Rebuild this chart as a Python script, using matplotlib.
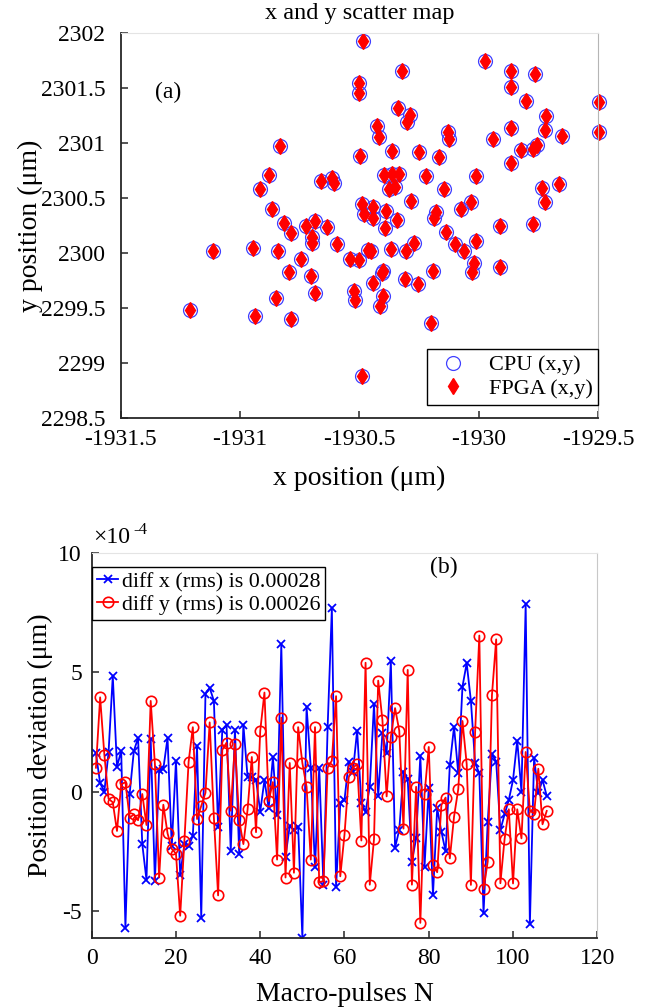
import numpy as np
import matplotlib
matplotlib.use('Agg')
import matplotlib.pyplot as plt
from matplotlib.ticker import FuncFormatter, FixedLocator, FormatStrFormatter

# ---------------- data: (a) scatter map ----------------
cpu_x = [
    -1930.485, -1930.502, -1930.502, -1930.322, -1929.975, -1929.864, -1929.765, -1929.864, -1929.803, -1929.497,
    -1930.339, -1930.289, -1930.300, -1929.717, -1929.721, -1929.497, -1930.425, -1930.418, -1930.130, -1930.123,
    -1929.941, -1929.863, -1929.649, -1930.831, -1930.498, -1930.363, -1930.251, -1930.168, -1929.821, -1929.773,
    -1929.757, -1929.866, -1930.876, -1930.915, -1930.662, -1930.615, -1930.605, -1930.395, -1930.361, -1930.332,
    -1930.374, -1930.351, -1930.222, -1930.013, -1930.144, -1929.734, -1929.664, -1929.722, -1930.487, -1930.482,
    -1930.441, -1930.444, -1930.390, -1930.342, -1930.282, -1930.180, -1930.187, -1930.072, -1930.034, -1929.912,
    -1929.774, -1930.864, -1930.817, -1930.787, -1930.722, -1930.685, -1930.697, -1930.696, -1930.637, -1930.595,
    -1930.393, -1930.135, -1930.272, -1930.305, -1930.098, -1930.062, -1930.013, -1930.020, -1930.028, -1929.911,
    -1930.191, -1930.310, -1930.254, -1930.198, -1931.112, -1930.947, -1930.840, -1930.746, -1930.540, -1930.501,
    -1930.463, -1930.449, -1930.368, -1930.796, -1930.702, -1930.687, -1930.400, -1930.405, -1930.442, -1930.523,
    -1930.518, -1930.400, -1930.413, -1930.849, -1931.209, -1930.936, -1930.786, -1930.487]
cpu_y = [
    2301.929, 2301.550, 2301.454, 2301.657, 2301.744, 2301.660, 2301.625, 2301.507, 2301.383, 2301.370,
    2301.318, 2301.255, 2301.192, 2301.243, 2301.120, 2301.097, 2301.158, 2301.055, 2301.101, 2301.036,
    2301.037, 2301.137, 2301.062, 2300.977, 2300.884, 2300.925, 2300.921, 2300.878, 2300.937, 2300.950,
    2300.980, 2300.818, 2300.711, 2300.585, 2300.659, 2300.685, 2300.633, 2300.706, 2300.715, 2300.722,
    2300.581, 2300.604, 2300.703, 2300.703, 2300.586, 2300.589, 2300.627, 2300.467, 2300.449, 2300.358,
    2300.422, 2300.316, 2300.382, 2300.303, 2300.474, 2300.376, 2300.321, 2300.403, 2300.460, 2300.248,
    2300.268, 2300.399, 2300.271, 2300.179, 2300.250, 2300.291, 2300.142, 2300.088, 2300.236, 2300.083,
    2300.224, 2300.188, 2300.088, 2300.017, 2300.078, 2300.017, 2300.109, 2299.911, 2299.829, 2299.874,
    2299.835, 2299.759, 2299.714, 2299.363, 2300.017, 2300.042, 2300.015, 2299.944, 2299.944, 2299.935,
    2300.026, 2300.020, 2300.036, 2299.823, 2299.792, 2299.639, 2299.838, 2299.819, 2299.728, 2299.655,
    2299.570, 2299.607, 2299.518, 2299.593, 2299.479, 2299.427, 2299.403, 2298.880]
fpga_x = list(cpu_x)
fpga_y = list(cpu_y)

x_ticks_a = [-1931.5, -1931, -1930.5, -1930, -1929.5]
y_ticks_a = [2298.5, 2299, 2299.5, 2300, 2300.5, 2301, 2301.5, 2302]

# ---------------- data: (b) deviations (units of 1e-4 um) ----------------
pulses = list(range(1, 109))
diff_x_e4 = [
    1.6, 0.35, 0.0, 1.65, 4.85, 1.05, 1.7, -5.7, -0.1, 1.7,
    2.25, -2.2, -3.7, 2.2, -3.75, 0.9, 0.95, 2.25, -2.3, 1.3,
    -3.5, -2.2, -2.3, -1.85, 1.9, -5.3, 4.1, 4.35, 3.8, -1.5,
    2.6, 2.8, -2.5, 2.6, -2.6, 2.8, 0.6, 0.6, 0.5, -0.84,
    0.49, -0.7, 1.44, -0.98, 6.17, -2.72, -1.44, -1.61, -1.47, -6.12,
    3.56, 1.0, -3.18, 1.0, -3.91, 2.72, 7.68, -4.0, -0.49, -0.35,
    1.26, 0.84, 2.56, -0.49, -0.84, 0.21, 3.66, -0.17, 2.44, 1.6,
    5.47, -2.35, -1.6, 0.84, 0.52, -2.93, -1.96, 1.49, -3.14, 0.17,
    -4.33, -0.7, -1.68, -2.51, 1.12, 2.72, 0.77, 4.4, 5.38, 3.81,
    1.19, 0.77, -5.1, -1.26, 1.58, 1.26, -1.61, -0.95, -0.35, 0.49,
    2.14, 0.0, 7.85, -5.56, 1.42, -0.07, 0.49, -0.18]
diff_y_e4 = [
    1.0, 3.95, 1.55, -0.3, -0.45, -1.65, 0.3, 0.4, -1.1, -0.95,
    -1.2, -0.1, -1.4, 3.8, 1.15, -3.6, -0.55, -1.75, -2.4, -2.6,
    -5.2, -2.05, 1.25, 2.7, -1.15, -0.6, -0.05, 2.9, -1.1, -4.35,
    1.75, 2.05, -0.8, 2.0, -1.2, -2.2, -0.75, 1.45, -1.7, 2.55,
    4.15, -0.4, 0.4, -2.85, 3.1, -3.6, 1.2, -3.4, 2.7, 1.2,
    0.2, -2.85, 2.7, -3.8, -3.75, 1.0, 1.3, 4.0, -3.55, -1.8,
    0.6, 1.0, 1.15, -2.05, 5.4, -3.9, -2.0, 4.65, 3.0, -0.2,
    2.3, 3.5, 2.55, -1.55, 5.1, -3.9, 0.2, -5.5, -0.1, 1.87,
    -3.07, -3.38, -0.56, -0.25, -2.8, -1.05, 0.1, 2.96, 1.16, -3.91,
    2.49, 6.54, -4.09, -2.93, 4.05, 6.38, -3.84, -1.98, -0.74, -3.85,
    -0.74, -1.96, 1.66, -0.8, -0.92, 0.96, -1.37, -0.81]
diff_scale = 1e-4
x_ticks_b = [0, 20, 40, 60, 80, 100, 120]
y_ticks_b = [-5e-4, 0, 5e-4, 10e-4]

label_x = 'diff x (rms) is 0.00028'
label_y = 'diff y (rms) is 0.00026'

# ---------------- style ----------------
plt.rcParams['font.family'] = ['Liberation Serif', 'DejaVu Serif']
plt.rcParams['axes.unicode_minus'] = False

fig = plt.figure(figsize=(6.56, 10.08), dpi=100)
ax1 = fig.add_axes([0.1837, 0.5855, 0.7279, 0.3815])
ax2 = fig.add_axes([0.1398, 0.0691, 0.7707, 0.3823])

def style_axes(ax, right_col):
    for s in ('left', 'bottom'):
        ax.spines[s].set_color('#262626')
        ax.spines[s].set_linewidth(1.3)
    ax.spines['top'].set_color('#e4e4e4')
    ax.spines['top'].set_linewidth(0.8)
    ax.spines['right'].set_color(right_col)
    ax.spines['right'].set_linewidth(0.8)
    ax.tick_params(direction='in', length=5, width=1.1, colors='#262626',
                   labelcolor='black', labelsize=17, top=False, right=False)

# ---------------- (a) ----------------
ax1.plot(cpu_x, cpu_y, linestyle='none', marker='o', ms=10, mfc='none',
         mec=(0.25, 0.25, 1.0), mew=0.9, clip_on=False, label='CPU (x,y)')
ax1.plot(fpga_x, fpga_y, linestyle='none', marker='d', ms=8.5, color='red',
         mec='red', clip_on=False, label='FPGA (x,y)')
ax1.set_xlim(-1931.5, -1929.5)
ax1.set_ylim(2298.5, 2302)
ax1.xaxis.set_major_locator(FixedLocator(x_ticks_a))
ax1.yaxis.set_major_locator(FixedLocator(y_ticks_a))
ax1.xaxis.set_major_formatter(FormatStrFormatter('%g'))
ax1.yaxis.set_major_formatter(FormatStrFormatter('%g'))
style_axes(ax1, '#b5b5b5')
ax1.tick_params(axis='x', pad=8)
ax1.tick_params(axis='y', pad=11)
ax1.set_title('x and y scatter map', fontsize=17.5, pad=10)
ax1.set_xlabel('x position (μm)', fontsize=20)
ax1.set_ylabel('y position (μm)', fontsize=20)
ax1.xaxis.label.set_va('center')
ax1.yaxis.label.set_va('center')
ax1.xaxis.set_label_coords(0.5, -0.157)
ax1.yaxis.set_label_coords(-0.1895, 0.5)
ax1.text(-1931.355, 2301.46, '(a)', fontsize=17, va='center', ha='left')
leg1 = ax1.legend(loc='lower right', bbox_to_anchor=(1.0, 0.034), borderaxespad=0,
                  fontsize=16, fancybox=False, edgecolor='black', framealpha=1,
                  handletextpad=0.7, labelspacing=0.15, borderpad=0.25,
                  handlelength=1.8)
leg1.get_frame().set_linewidth(1.0)

# ---------------- (b) ----------------
dx = np.array(diff_x_e4) * diff_scale
dy = np.array(diff_y_e4) * diff_scale
ax2.plot(pulses, dx, '-x', color='blue', lw=1.3, ms=6, mew=1.3, label=label_x)
ax2.plot(pulses, dy, '-o', color='red', lw=1.3, ms=7.5, mfc='none', mew=1.2, label=label_y)
ax2.set_xlim(0, 120)
ax2.set_ylim(-6.15e-4, 10e-4)
ax2.xaxis.set_major_locator(FixedLocator(x_ticks_b))
ax2.yaxis.set_major_locator(FixedLocator(y_ticks_b))
ax2.yaxis.set_major_formatter(FuncFormatter(lambda v, p: '%g' % round(v / diff_scale, 6)))
style_axes(ax2, '#c8c8c8')
ax2.tick_params(axis='x', pad=7)
ax2.tick_params(axis='y', pad=7)
# exponent multiplier
ax2.text(0.002, 1.012, '×10', transform=ax2.transAxes, fontsize=17,
         ha='left', va='bottom')
ax2.text(0.082, 1.038, '-4', transform=ax2.transAxes, fontsize=12,
         ha='left', va='bottom')
ax2.set_xlabel('Macro-pulses N', fontsize=20)
ax2.set_ylabel('Position deviation (μm)', fontsize=20)
ax2.xaxis.label.set_va('center')
ax2.yaxis.label.set_va('center')
ax2.xaxis.set_label_coords(0.5, -0.147)
ax2.yaxis.set_label_coords(-0.102, 0.5)
ax2.text(80.3, 9.4e-4, '(b)', fontsize=17, va='center', ha='left')
leg2 = ax2.legend(loc='upper left', bbox_to_anchor=(0.0, 0.964), borderaxespad=0,
                  fontsize=15.8, fancybox=False, edgecolor='black', framealpha=1,
                  handlelength=1.0, handletextpad=0.15, labelspacing=0.12,
                  borderpad=0.22)
leg2.get_frame().set_linewidth(1.0)

fig.savefig('out.png', dpi=100)
